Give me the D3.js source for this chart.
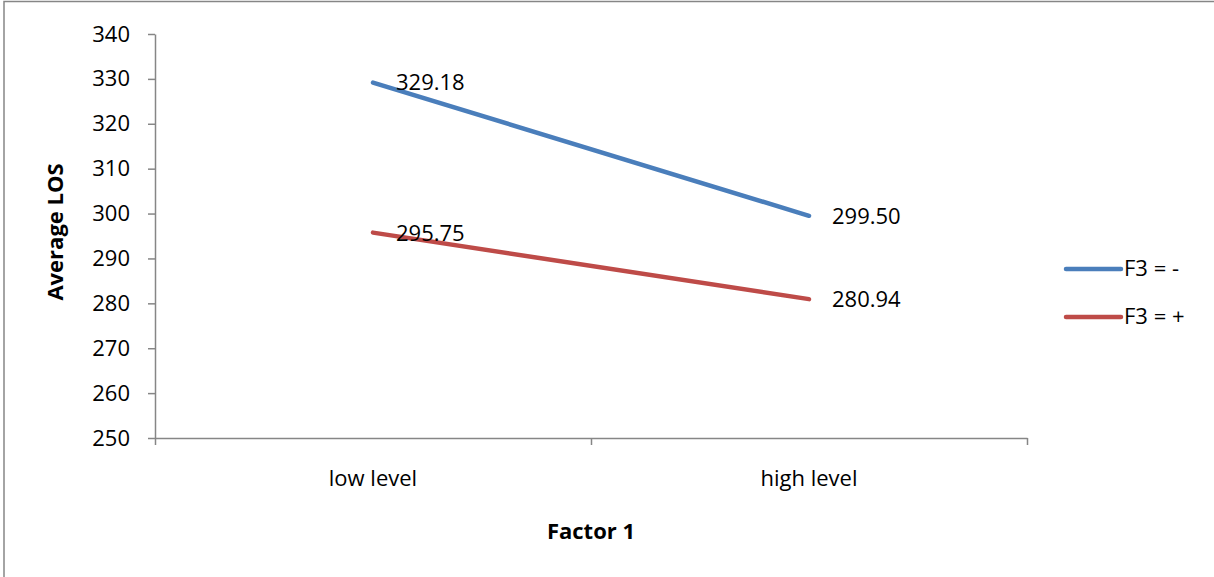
<!DOCTYPE html>
<html>
<head>
<meta charset="utf-8">
<script src="https://cdn.jsdelivr.net/npm/d3@7"></script>
<style>
  html, body { margin: 0; padding: 0; background: #fff; }
  svg { display: block; }
  text { font-family: "Open Sans", "Noto Sans", sans-serif; fill: #000; }
</style>
</head>
<body>
<svg id="chart" width="1214" height="577"></svg>
<script>
// Factor 1 levels on the x axis
const categories = ["low level", "high level"];
// Average LOS for each F3 setting
const seriesNames = ["F3 = -", "F3 = +"];
const seriesMinus = [329.18, 299.50];
const seriesPlus = [295.75, 280.94];
const seriesColors = ["#4A7EBB", "#BE4B48"];
const yTicks = [250, 260, 270, 280, 290, 300, 310, 320, 330, 340];

const series = [
  { name: seriesNames[0], values: seriesMinus, color: seriesColors[0] },
  { name: seriesNames[1], values: seriesPlus, color: seriesColors[1] }
];

const svg = d3.select("#chart");
const axisColor = "#868686";
const fontSize = 22;

// chart frame (left and top edges)
svg.append("path")
  .attr("d", "M4,577 L4,1.5 L1214,1.5")
  .attr("fill", "none")
  .attr("stroke", axisColor)
  .attr("stroke-width", 1.5);

const plot = { left: 155, right: 1027, top: 34, bottom: 438 };

const x = d3.scaleBand().domain(categories).range([plot.left, plot.right]).padding(0);
const xEdge = d3.scaleLinear().domain([0, categories.length]).range([plot.left, plot.right]);
const y = d3.scaleLinear().domain([250, 340]).range([plot.bottom, plot.top]);

// y axis
const yAxis = svg.append("g")
  .attr("transform", `translate(${plot.left},0)`)
  .call(d3.axisLeft(y).tickValues(yTicks).tickSize(7).tickPadding(18).tickSizeOuter(0));
yAxis.select(".domain").attr("stroke", axisColor).attr("stroke-width", 1.5);
yAxis.selectAll(".tick line").attr("stroke", axisColor).attr("stroke-width", 1.5);
yAxis.selectAll(".tick text")
  .attr("font-size", fontSize)
  .attr("font-family", "\"Open Sans\", sans-serif")
  .attr("fill", "#000");

// x axis: ticks at category boundaries, labels at category centres
const xAxis = svg.append("g")
  .attr("transform", `translate(0,${plot.bottom})`)
  .call(d3.axisBottom(xEdge).tickValues(d3.range(categories.length + 1)).tickFormat("").tickSize(7).tickSizeOuter(0));
xAxis.select(".domain").attr("stroke", axisColor).attr("stroke-width", 1.5);
xAxis.selectAll(".tick line").attr("stroke", axisColor).attr("stroke-width", 1.5);

svg.append("g").selectAll("text")
  .data(categories)
  .join("text")
  .attr("x", d => x(d) + x.bandwidth() / 2)
  .attr("y", 480)
  .attr("text-anchor", "middle")
  .attr("dominant-baseline", "middle")
  .attr("font-size", fontSize)
  .text(d => d);

// axis titles
svg.append("text")
  .attr("transform", `translate(57,232) rotate(-90)`)
  .attr("text-anchor", "middle")
  .attr("dominant-baseline", "middle")
  .attr("font-size", fontSize)
  .attr("font-weight", "bold")
  .text("Average LOS");

svg.append("text")
  .attr("x", (plot.left + plot.right) / 2)
  .attr("y", 533)
  .attr("text-anchor", "middle")
  .attr("dominant-baseline", "middle")
  .attr("font-size", fontSize)
  .attr("font-weight", "bold")
  .text("Factor 1");

// series lines
const line = d3.line()
  .x((d, i) => x(categories[i]) + x.bandwidth() / 2)
  .y(d => y(d));

svg.append("g").selectAll("path")
  .data(series)
  .join("path")
  .attr("d", d => line(d.values))
  .attr("fill", "none")
  .attr("stroke", d => d.color)
  .attr("stroke-width", 4.5)
  .attr("stroke-linecap", "round");

// value labels
const labels = svg.append("g");
series.forEach(s => {
  labels.selectAll(null)
    .data(s.values)
    .join("text")
    .attr("x", (d, i) => x(categories[i]) + x.bandwidth() / 2 + 23)
    .attr("y", d => y(d) + 2)
    .attr("dominant-baseline", "middle")
    .attr("font-size", fontSize)
    .text(d => d.toFixed(2));
});

// legend
const legend = svg.append("g");
series.forEach((s, i) => {
  const ly = 269 + i * 48;
  legend.append("line")
    .attr("x1", 1066).attr("x2", 1121)
    .attr("y1", ly).attr("y2", ly)
    .attr("stroke", s.color)
    .attr("stroke-width", 4.5)
    .attr("stroke-linecap", "round");
  legend.append("text")
    .attr("x", 1124)
    .attr("y", ly + 1)
    .attr("dominant-baseline", "middle")
    .attr("font-size", fontSize)
    .text(s.name);
});
</script>
</body>
</html>
